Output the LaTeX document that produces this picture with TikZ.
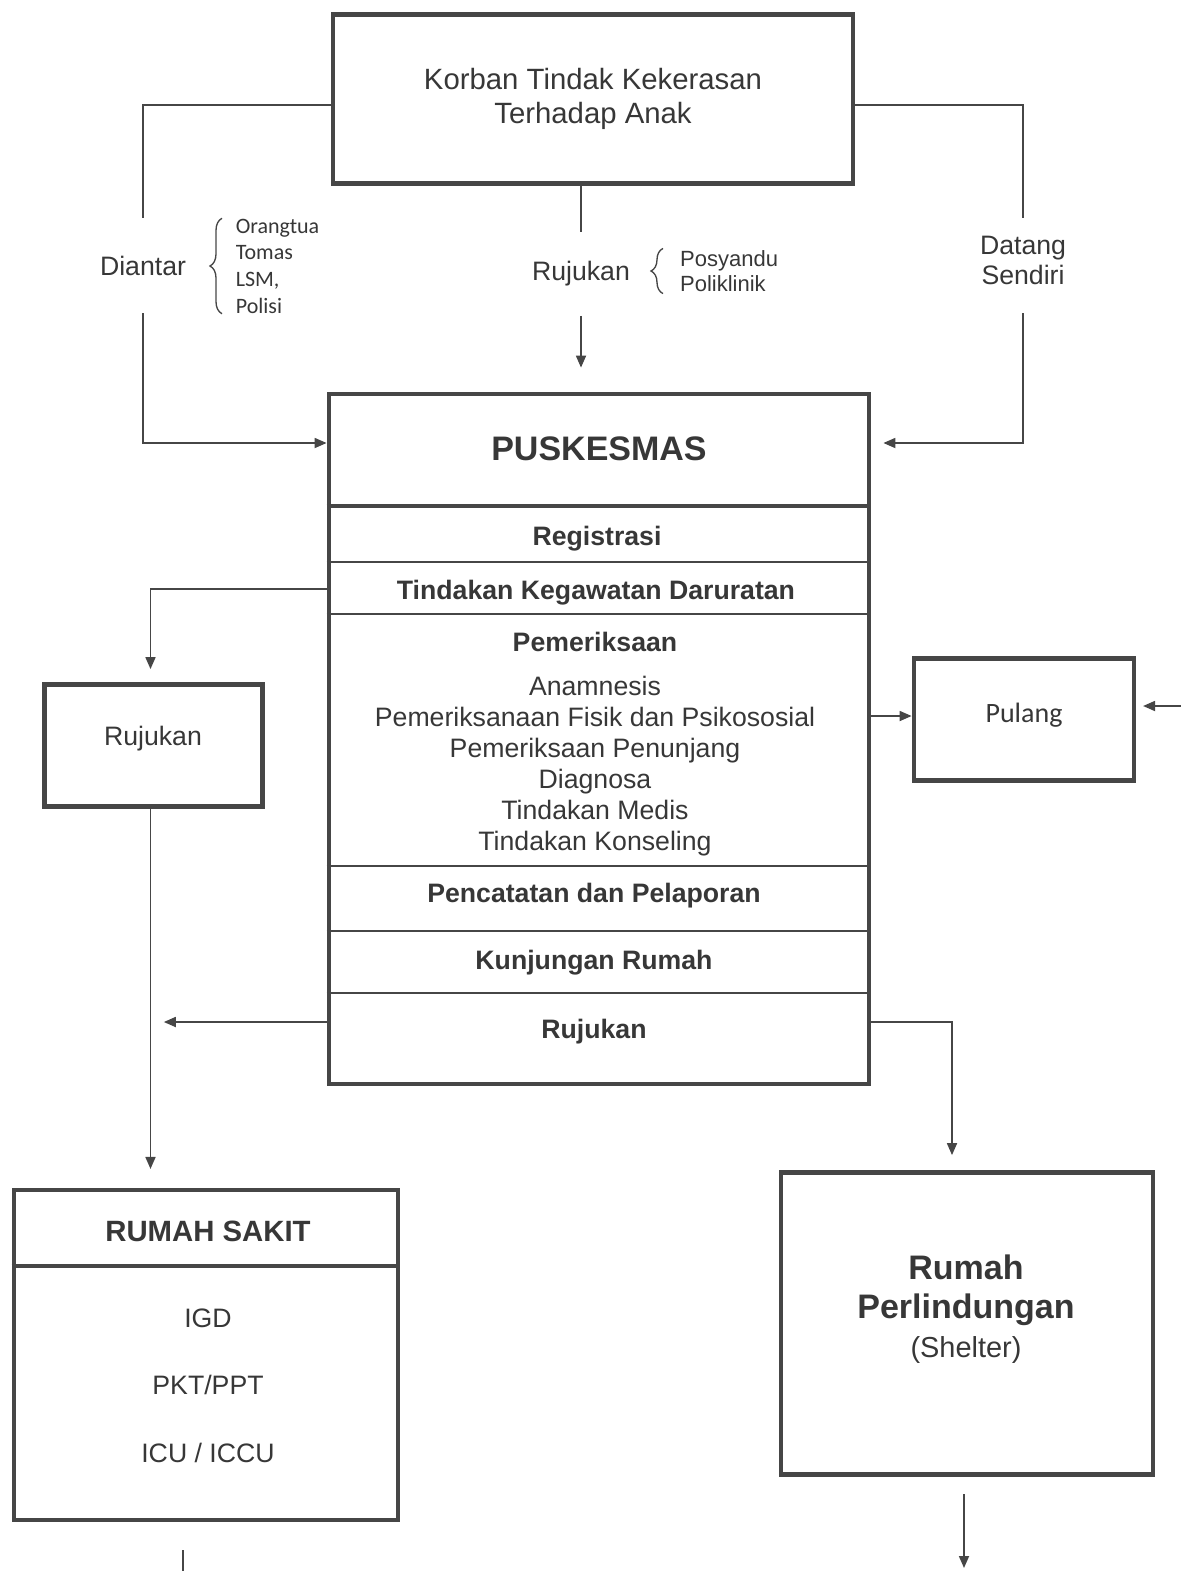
\documentclass[tikz,border=0pt]{standalone}
\usepackage{fontspec}
\setmainfont{Liberation Sans}
\newfontfamily\calibfont{Carlito}
\usetikzlibrary{arrows.meta,calc,decorations.pathreplacing}

\definecolor{ink}{RGB}{55,55,55}
\definecolor{edge}{RGB}{70,70,70}

\tikzset{every picture/.style={line width=0.75pt}}
\tikzset{
  box/.style={draw=edge,line width=3.6pt,inner sep=0pt},
  conn/.style={draw=edge,line width=1.3pt},
  arr/.style={conn,-{Triangle[length=9pt,width=7.5pt]}},
  sep/.style={draw=edge,line width=1pt},
  txt/.style={text=ink,inner sep=0pt,align=center,font=\fontsize{20}{23.25}\selectfont},
  btxt/.style={txt,font=\fontsize{20}{24}\selectfont\bfseries},
  brace/.style={decorate,decoration={brace,amplitude=9pt},draw=edge,line width=1pt},
}

\begin{document}
\begin{tikzpicture}[x=0.75pt,y=0.75pt,yscale=-1,xscale=1]
	\useasboundingbox (0,0) rectangle (1181,1571);

	%Boxes
	\node[box,txt,minimum width=390pt,minimum height=127pt,font=\fontsize{22}{25.5}\selectfont] (korban) at (593,99) {Korban Tindak Kekerasan\\Terhadap Anak};
	\node[box,minimum width=405pt,minimum height=517.5pt] (pusk) at (599,739) {};
	\node[box,minimum width=164pt,minimum height=91pt] (rujbox) at (153.5,745.5) {};
	\node[box,minimum width=165pt,minimum height=91pt] (pulang) at (1024,719.5) {};
	\node[box,minimum width=288pt,minimum height=247.5pt] (rs) at (206,1355) {};
	\node[box,minimum width=279pt,minimum height=227pt] (shelter) at (967,1323.5) {};

	%Labels on the way in
	\node[txt,minimum height=71pt] (diantar) at (143,265.5) {Diantar};
	\node[txt,minimum height=71pt,font=\fontsize{20}{22.5}\selectfont] (datang) at (1023,260) {Datang\\Sendiri};
	\node[txt,minimum height=62pt] (rujlbl) at (581,274) {Rujukan};
	\node[text=ink,anchor=west,align=left,inner xsep=10pt,inner ysep=0pt,font=\calibfont\fontsize{16.5}{20}\selectfont] (olist) at (222,266) {Orangtua\\Tomas\\LSM,\\Polisi};
	\node[text=ink,anchor=west,align=left,inner xsep=12.5pt,inner ysep=1pt,font=\fontsize{16.5}{19}\selectfont] (plist) at (663,271) {Posyandu\\Poliklinik};
	\draw[brace] (olist.south west) -- (olist.north west);
	\draw[brace] (plist.south west) -- (plist.north west);

	%PUSKESMAS sections
	\node[btxt,font=\fontsize{25.5}{28}\selectfont\bfseries] (puskhead) at (599,449) {PUSKESMAS};
	\node[btxt] (reg) at (597,539) {Registrasi};
	\node[btxt] (tkd) at (596,593) {Tindakan Kegawatan Daruratan};
	\node[btxt] (periksa) at (595,642) {Pemeriksaan};
	\node[txt] (periksalist) at (595,766) {Anamnesis\\Pemeriksanaan Fisik dan Psikososial\\Pemeriksaan Penunjang\\Diagnosa\\Tindakan Medis\\Tindakan Konseling};
	\node[btxt] (catat) at (594,896) {Pencatatan dan Pelaporan};
	\node[btxt] (kunjung) at (594,963) {Kunjungan Rumah};
	\node[btxt] (rujsec) at (594,1032) {Rujukan};
	\draw[draw=edge,line width=3pt] (pusk.west |- 0,506) -- (pusk.east |- 0,506);
	\foreach \y in {562,614,866,931,993}
		\draw[sep] (pusk.west |- 0,\y) -- (pusk.east |- 0,\y);

	%Other texts
	\node[txt] (rujtxt) at (153,739) {Rujukan};
	\node[text=ink,inner sep=0pt,font=\calibfont\fontsize{21}{24}\selectfont] (pulangtxt) at (1024,715) {Pulang};
	\node[btxt,font=\fontsize{22}{25}\selectfont\bfseries] (rstitle) at (208,1231) {RUMAH SAKIT};
	\draw[draw=edge,line width=3pt] (rs.west |- 0,1266) -- (rs.east |- 0,1266);
	\node[txt] (igd) at (208,1318) {IGD};
	\node[txt] (pkt) at (208,1385) {PKT/PPT};
	\node[txt] (icu) at (208,1453) {ICU / ICCU};
	\node[txt,font=\fontsize{25.5}{29.5}\selectfont] (sheltertxt) at (966,1309) {\textbf{Rumah}\\\textbf{Perlindungan}\\{\fontsize{21.7}{29}\selectfont(Shelter)}};

	%Free ends
	\coordinate (pulin) at (1181,706);
	\coordinate (rsout) at (183,1571);
	\coordinate (shout) at (964,1568);

	%Connectors
	\draw[conn] ($(korban.west)+(0,6)$) -| (diantar.north);
	\draw[arr] (diantar.south) |- (pusk.west |- 0,443);
	\draw[conn] (korban.south -| rujlbl.north) -- (rujlbl.north);
	\draw[arr,shorten >=18pt] (rujlbl.south) -- (rujlbl.south |- pusk.north);
	\draw[conn] ($(korban.east)+(0,6)$) -| (datang.north |- 0,218);
	\draw[arr,shorten >=9pt] (datang.south |- 0,313) |- (pusk.east |- 0,443);
	\draw[arr,shorten >=10pt] (pusk.west |- 0,589) -| ($(rujbox.north)+(-3,0)$);
	\draw[arr,shorten >=14pt] ($(rujbox.south)+(-3,0)$) -- ($(rujbox.south |- rs.north)+(-3,0)$);
	\draw[arr,shorten >=10pt] (pusk.west |- 0,1022) -- ($(rujbox.south |- 0,1022)+(-3,0)$);
	\draw[arr] (pusk.east |- 0,716) -- (pulang.west |- 0,716);
	\draw[arr,shorten >=5pt] (pulin) -- (pulin -| pulang.east);
	\draw[arr,shorten >=11pt] (pusk.east |- 0,1022) -| ($(shelter.north)+(-15,0)$);
	\draw[conn] ($(rs.south -| rsout)+(0,28)$) -- (rsout);
	\draw[arr] ($(shelter.south)+(-3,17)$) -- ($(shelter.south |- shout)+(-3,0)$);
\end{tikzpicture}
\end{document}
